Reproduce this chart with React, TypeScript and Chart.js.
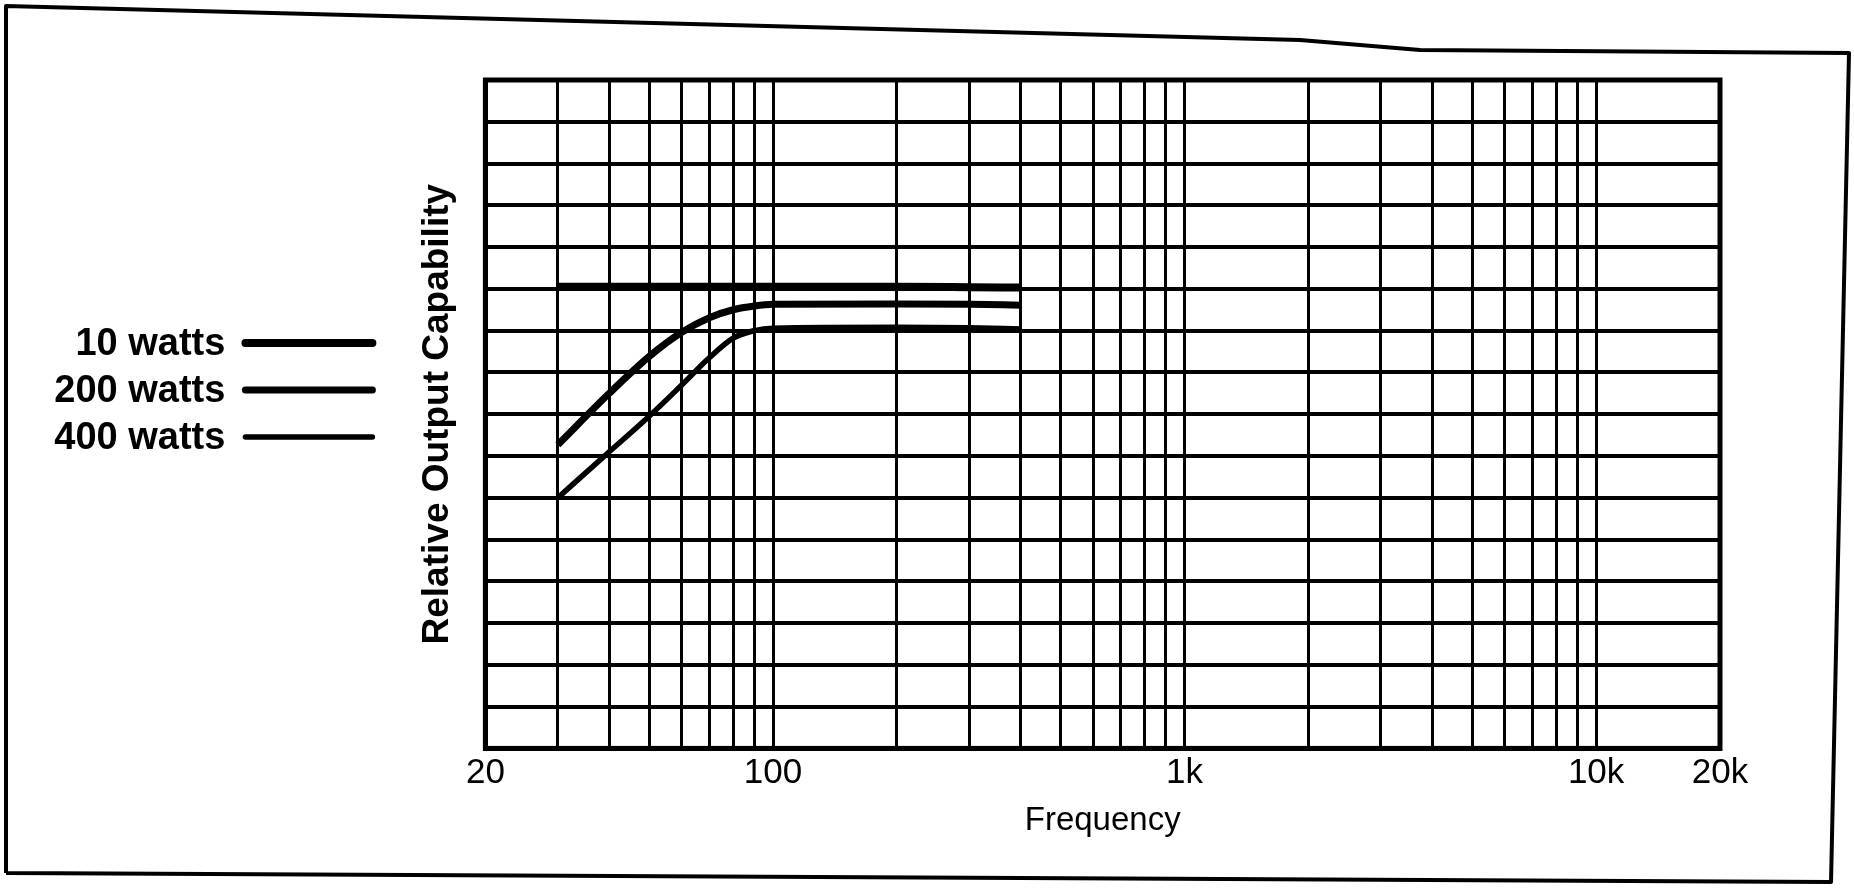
import React, { useEffect, useRef } from "react";
import { Chart, registerables } from "chart.js";

Chart.register(...registerables);

// ---------- data ----------
const seriesLabels = ["10 watts", "200 watts", "400 watts"];
const freqHz = [30, 40, 50, 60, 70, 80, 90, 100, 200, 300, 400];
const watts10 = [11.05, 11.05, 11.05, 11.05, 11.05, 11.05, 11.05, 11.05, 11.05, 11.04, 11.03];
const watts200 = [7.27, 8.5, 9.38, 9.96, 10.31, 10.5, 10.59, 10.63, 10.64, 10.63, 10.61];
const watts400 = [6.0, 7.1, 7.95, 8.7, 9.35, 9.82, 10.0, 10.06, 10.08, 10.07, 10.04];
const seriesValues = [watts10, watts200, watts400];
const seriesWidths = [8, 7, 5.5];

const xGridHz = [
  20, 30, 40, 50, 60, 70, 80, 90,
  100, 200, 300, 400, 500, 600, 700, 800, 900,
  1000, 2000, 3000, 4000, 5000, 6000, 7000, 8000, 9000,
  10000, 20000,
];
const xLabelHz = [20, 100, 1000, 10000, 20000];
const xLabelText = ["20", "100", "1k", "10k", "20k"];
const yMin = 0;
const yMax = 16;

const FONT = "'Liberation Sans', Arial, Helvetica, sans-serif";

const framePlugin = {
  id: "frameAndLegend",
  beforeDraw(chart: any) {
    const ctx = chart.ctx;
    ctx.save();
    ctx.fillStyle = "#ffffff";
    ctx.fillRect(0, 0, chart.width, chart.height);
    ctx.restore();
  },
  afterDraw(chart: any) {
    const ctx = chart.ctx;
    const area = chart.chartArea;
    ctx.save();
    // plot frame
    ctx.strokeStyle = "#000";
    ctx.lineWidth = 5;
    ctx.strokeRect(area.left, area.top, area.right - area.left, area.bottom - area.top);
    // outer scanned page frame
    ctx.lineWidth = 4;
    ctx.lineJoin = "round";
    ctx.beginPath();
    ctx.moveTo(6, 873);
    ctx.lineTo(6, 6);
    ctx.lineTo(1300, 40);
    ctx.lineTo(1420, 50);
    ctx.lineTo(1849, 53);
    ctx.lineTo(1831, 882);
    ctx.lineTo(6, 873);
    ctx.stroke();
    // legend at left
    ctx.font = `bold 38px ${FONT}`;
    ctx.textAlign = "right";
    ctx.textBaseline = "middle";
    ctx.fillStyle = "#000";
    chart.data.datasets.forEach((ds: any, i: number) => {
      const y = 343 + i * 47;
      ctx.fillText(ds.label, area.left - 260, y + 2);
      ctx.beginPath();
      ctx.lineWidth = ds.borderWidth;
      ctx.lineCap = "round";
      ctx.moveTo(area.left - 240, y);
      ctx.lineTo(area.left - 113, y);
      ctx.stroke();
    });
    ctx.restore();
  },
};

export default function App() {
  const ref = useRef<HTMLCanvasElement | null>(null);

  useEffect(() => {
    if (!ref.current) return;
    const datasets = seriesLabels.map((label, i) => ({
      label,
      data: freqHz.map((f, j) => ({ x: f, y: seriesValues[i][j] })),
      borderColor: "#000",
      backgroundColor: "#000",
      borderWidth: seriesWidths[i],
      pointRadius: 0,
      cubicInterpolationMode: "monotone" as const,
      fill: false,
    }));

    const chart = new Chart(ref.current, {
      type: "line",
      data: { datasets },
      options: {
        animation: false,
        responsive: true,
        maintainAspectRatio: false,
        devicePixelRatio: 1,
        layout: { padding: { left: 412, right: 134, top: 80, bottom: 49 } },
        plugins: {
          legend: { display: false },
          tooltip: { enabled: false },
        },
        scales: {
          x: {
            type: "logarithmic",
            min: 20,
            max: 20000,
            afterBuildTicks: (scale: any) => {
              scale.ticks = xGridHz.map((v) => ({ value: v }));
            },
            grid: { color: "#000", lineWidth: 3, drawTicks: false },
            border: { color: "#000", width: 5 },
            ticks: {
              autoSkip: false,
              maxRotation: 0,
              padding: 4,
              color: "#000",
              font: { family: FONT, size: 35 },
              callback: (value: any) => {
                const k = xLabelHz.indexOf(Number(value));
                return k >= 0 ? xLabelText[k] : "";
              },
            },
            title: {
              display: true,
              text: "Frequency",
              color: "#000",
              font: { family: FONT, size: 33 },
              padding: { top: 3, bottom: 0 },
            },
          },
          y: {
            type: "linear",
            min: yMin,
            max: yMax,
            grid: { color: "#000", lineWidth: 4, drawTicks: false },
            border: { color: "#000", width: 5 },
            ticks: { display: false, stepSize: 1 },
            title: {
              display: true,
              text: "Relative Output Capability",
              color: "#000",
              font: { family: FONT, size: 37, weight: "bold" },
              padding: { top: 4, bottom: 25 },
            },
          },
        },
      },
      plugins: [framePlugin],
    });
    return () => chart.destroy();
  }, []);

  return (
    <div
      style={{
        position: "fixed",
        left: 0,
        top: 0,
        width: 1854,
        height: 890,
        background: "#fff",
      }}
    >
      <canvas ref={ref} />
    </div>
  );
}
